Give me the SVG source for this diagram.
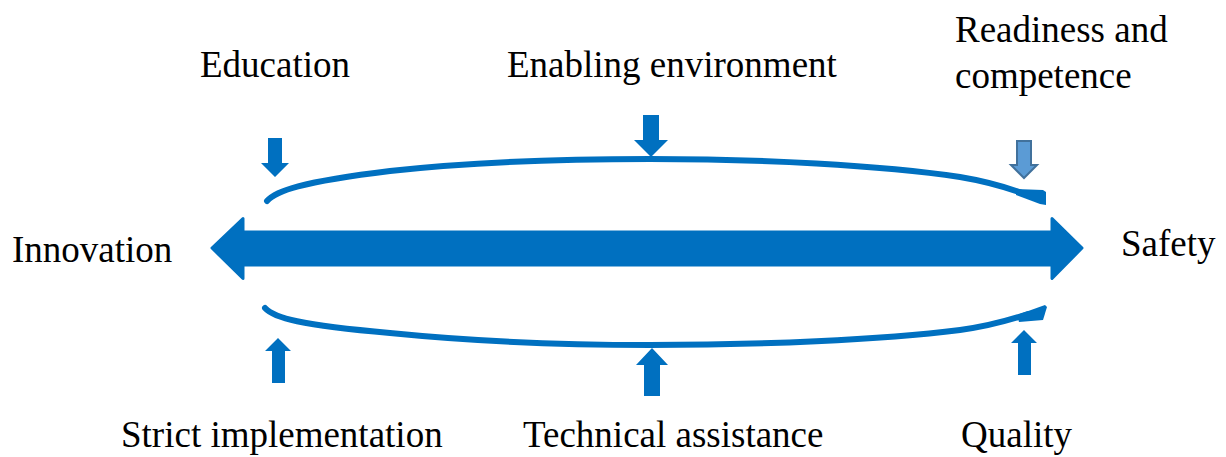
<svg xmlns="http://www.w3.org/2000/svg" width="1226" height="457" viewBox="0 0 1226 457">
<style>
.lbl{font-family:'Liberation Serif','DejaVu Serif',serif;font-size:37px;fill:#000}
.blue{fill:#0070C0}
.curve{fill:none;stroke:#0070C0;stroke-width:6;stroke-linecap:round}
.main{fill:#0070C0;stroke:#0070C0;stroke-width:3;stroke-linejoin:round}
.light{fill:#5B9BD5;stroke:#41719C;stroke-width:2}
</style>
<rect width="1226" height="457" fill="#fff"/>
<g id="connectors">
<path id="main-arrow" class="main" d="M212,248 L243,218.5 L243,232 L1052,232 L1052,218.5 L1082,248 L1052,278.5 L1052,265 L243,265 L243,278.5 Z"/>
<path id="top-curve" class="curve" d="M267,201 C276,191 300,182 390,171 C470,162 560,159 650,159 C760,159 880,165 960,177 C990,182 1012,189 1030,196"/>
<polygon class="blue" points="1016,189 1043,190 1046,192 1046,205 1040,204 1016,195"/>
<path id="bottom-curve" class="curve" d="M265,308 C274,318 300,325 390,333 C470,341 560,345 650,345 C760,345 880,340 960,330 C990,326 1010,320 1028,314"/>
<polygon class="blue" points="1017,315 1045,305 1047,307 1043,320 1019,322"/>
</g>
<g id="education">
<text class="lbl" font-family="Liberation Serif, serif" x="200" y="77">Education</text>
<polygon class="blue" points="268,138 282,138 282,163 289,163 275,177 261,163 268,163"/>
</g>
<g id="enabling-environment">
<text class="lbl" font-family="Liberation Serif, serif" x="507" y="77">Enabling environment</text>
<polygon class="blue" points="643,115 659,115 659,140 668,140 651,157 634,140 643,140"/>
</g>
<g id="readiness-competence">
<text class="lbl" font-family="Liberation Serif, serif" x="955" y="42">Readiness and</text>
<text class="lbl" font-family="Liberation Serif, serif" x="955" y="88">competence</text>
<polygon class="light" points="1017,141 1031,141 1031,165 1037,165 1024,178 1011,165 1017,165"/>
</g>
<g id="innovation">
<text class="lbl" font-family="Liberation Serif, serif" x="12" y="262">Innovation</text>
</g>
<g id="safety">
<text class="lbl" font-family="Liberation Serif, serif" x="1121" y="256">Safety</text>
</g>
<g id="strict-implementation">
<polygon class="blue" points="278,338 291,351 285,351 285,383 272,383 272,351 265,351"/>
<text class="lbl" font-family="Liberation Serif, serif" x="121" y="447">Strict implementation</text>
</g>
<g id="technical-assistance">
<polygon class="blue" points="652,348 668,365 660,365 660,396 644,396 644,365 636,365"/>
<text class="lbl" font-family="Liberation Serif, serif" x="523" y="447">Technical assistance</text>
</g>
<g id="quality">
<polygon class="blue" points="1024,330 1037,343 1031,343 1031,375 1018,375 1018,343 1011,343"/>
<text class="lbl" font-family="Liberation Serif, serif" x="961" y="447">Quality</text>
</g>
</svg>
